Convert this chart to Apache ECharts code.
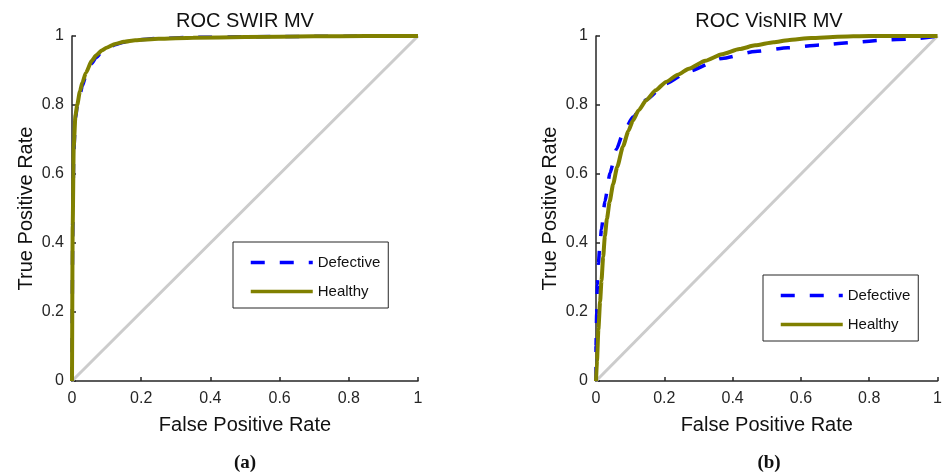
<!DOCTYPE html>
<html>
<head>
<meta charset="utf-8">
<script src="https://cdn.jsdelivr.net/npm/echarts@6/dist/echarts.min.js"></script>
<style>html,body{margin:0;padding:0;background:#fff}#c{width:945px;height:475px}</style>
</head>
<body>
<div id="c"></div>
<script>
// ---- data ----
var titles = ['ROC SWIR MV', 'ROC VisNIR MV'];
var panelLabels = ['(a)', '(b)'];
var seriesNames = ['Defective', 'Healthy'];
var xAxisName = 'False Positive Rate';
var yAxisName = 'True Positive Rate';

var swirFpr        = [0, 0.002, 0.005, 0.01, 0.015, 0.023, 0.03, 0.04, 0.057, 0.07, 0.086, 0.1, 0.125, 0.15, 0.183, 0.25, 0.35, 0.5, 0.7, 0.85, 1];
var swirHealthyTpr = [0, 0.45, 0.68, 0.77, 0.80, 0.84, 0.865, 0.893, 0.928, 0.944, 0.958, 0.966, 0.977, 0.983, 0.988, 0.992, 0.995, 0.997, 0.999, 1, 1];
var swirDefectTpr  = [0, 0.42, 0.66, 0.76, 0.795, 0.83, 0.855, 0.885, 0.92, 0.938, 0.953, 0.963, 0.975, 0.982, 0.988, 0.993, 0.996, 0.998, 0.999, 1, 1];

var visHealthyFpr = [0, 0.003, 0.007, 0.012, 0.016, 0.021, 0.026, 0.032, 0.04, 0.05, 0.062, 0.079, 0.095, 0.108, 0.125, 0.147, 0.175, 0.205, 0.24, 0.272, 0.32, 0.369, 0.42, 0.466, 0.52, 0.562, 0.63, 0.707, 0.8, 1];
var visHealthyTpr = [0, 0.06, 0.15, 0.23, 0.29, 0.36, 0.42, 0.47, 0.52, 0.57, 0.62, 0.68, 0.725, 0.755, 0.785, 0.814, 0.843, 0.867, 0.888, 0.905, 0.928, 0.947, 0.962, 0.973, 0.982, 0.988, 0.994, 0.998, 1, 1];

var visDefectFpr = [0, 0, 0.002, 0.004, 0.007, 0.011, 0.016, 0.026, 0.041, 0.06, 0.079, 0.108, 0.147, 0.205, 0.272, 0.369, 0.466, 0.562, 0.659, 0.76, 0.84, 0.92, 1];
var visDefectTpr = [0, 0.1, 0.197, 0.28, 0.34, 0.39, 0.44, 0.52, 0.603, 0.672, 0.718, 0.765, 0.815, 0.862, 0.898, 0.935, 0.955, 0.966, 0.974, 0.982, 0.988, 0.991, 1];

var chanceLine = [0, 1];

// ---- build ----
function pairs(xs, ys) { return xs.map(function (x, i) { return [x, ys[i]]; }); }

var FONT = "'Liberation Sans', Arial, sans-serif";
var AX = '#262626';
var grids = [
  { left: 72, top: 36, width: 346, height: 345 },
  { left: 596, top: 36, width: 346, height: 345 }
];
var centers = [245, 769];

function mkX(i) {
  return {
    gridIndex: i, type: 'value', min: 0, max: 1, interval: 0.2,
    name: xAxisName, nameLocation: 'middle', nameGap: 34,
    nameTextStyle: { fontFamily: FONT, fontSize: 20, color: '#111' },
    axisLine: { lineStyle: { color: AX, width: 1.5 } },
    axisTick: { inside: true, length: 4, lineStyle: { color: AX, width: 1.5 } },
    axisLabel: { margin: 10, fontFamily: FONT, fontSize: 16, color: AX },
    splitLine: { show: false }
  };
}
function mkY(i) {
  return {
    gridIndex: i, type: 'value', min: 0, max: 1, interval: 0.2,
    name: yAxisName, nameLocation: 'middle', nameGap: 36,
    nameTextStyle: { fontFamily: FONT, fontSize: 20, color: '#111' },
    axisLine: { lineStyle: { color: AX, width: 1.5 } },
    axisTick: { inside: true, length: 4, lineStyle: { color: AX, width: 1.5 } },
    axisLabel: { margin: 8, fontFamily: FONT, fontSize: 16, color: AX },
    splitLine: { show: false }
  };
}

var panels = [
  { def: pairs(swirFpr, swirDefectTpr), hea: pairs(swirFpr, swirHealthyTpr) },
  { def: pairs(visDefectFpr, visDefectTpr), hea: pairs(visHealthyFpr, visHealthyTpr) }
];

var series = [];
panels.forEach(function (p, i) {
  series.push({
    name: 'chance', type: 'line', xAxisIndex: i, yAxisIndex: i, symbol: 'none', silent: true, z: 1,
    data: pairs(chanceLine, chanceLine), lineStyle: { color: '#cccccc', width: 3 }
  });
  series.push({
    name: seriesNames[0], type: 'line', xAxisIndex: i, yAxisIndex: i, symbol: 'none', z: 2,
    data: p.def, smooth: 0.2, smoothMonotone: 'x',
    itemStyle: { color: '#0000ff' },
    lineStyle: { color: '#0000ff', width: 3.5, type: [14, 15] }
  });
  series.push({
    name: seriesNames[1], type: 'line', xAxisIndex: i, yAxisIndex: i, symbol: 'none', z: 3,
    data: p.hea, smooth: 0.2, smoothMonotone: 'x',
    itemStyle: { color: '#808000' },
    lineStyle: { color: '#808000', width: 4 }
  });
});

function mkLegend(left, top) {
  return {
    data: seriesNames, orient: 'vertical', left: left, top: top,
    itemWidth: 62, itemHeight: 14, itemGap: 14, selectedMode: false,
    padding: [13, 8, 9, 16],
    itemStyle: { color: 'rgba(0,0,0,0)', borderColor: 'rgba(0,0,0,0)', borderWidth: 0 },
    lineStyle: { width: 3.5 },
    backgroundColor: '#fff', borderColor: AX, borderWidth: 1, borderRadius: 0,
    textStyle: { fontFamily: FONT, fontSize: 15, color: '#111', padding: [0, 0, 0, 0] }
  };
}

var graphics = [];
for (var k = 0; k < 2; k++) {
  graphics.push({ type: 'text', x: centers[k], y: 21, style: { text: titles[k], font: '20px ' + FONT, fill: '#111', textAlign: 'center', textVerticalAlign: 'middle' } });
  graphics.push({ type: 'text', x: centers[k], y: 463, style: { text: panelLabels[k], font: 'bold 19px "Liberation Serif", "DejaVu Serif", serif', fill: '#111', textAlign: 'center', textVerticalAlign: 'middle' } });
}

var chart = echarts.init(document.getElementById('c'), null, { renderer: 'canvas' });
chart.setOption({
  animation: false,
  backgroundColor: '#fff',
  grid: grids,
  xAxis: [mkX(0), mkX(1)],
  yAxis: [mkY(0), mkY(1)],
  legend: [mkLegend(233, 242), mkLegend(763, 275)],
  graphic: graphics,
  series: series
});
</script>
</body>
</html>
